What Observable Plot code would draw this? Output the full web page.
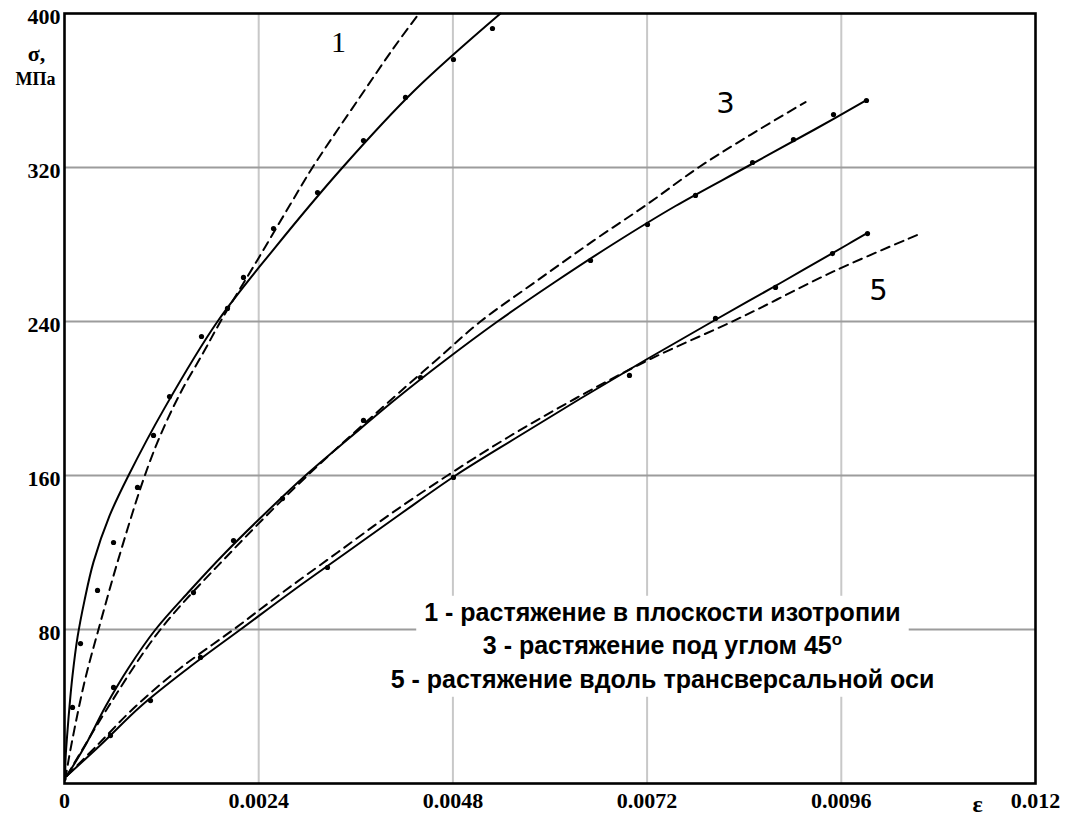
<!DOCTYPE html>
<html><head><meta charset="utf-8">
<script src="https://cdn.jsdelivr.net/npm/d3@7"></script>
<script src="https://cdn.jsdelivr.net/npm/@observablehq/plot@0.6"></script>
<style>body{margin:0;background:#fff} #chart{width:1066px;height:816px}</style>
</head><body><div id="chart"></div>
<script>
// ---- data (strain ε, stress σ in MPa) ----
const xTicks = [0, 0.0024, 0.0048, 0.0072, 0.0096, 0.012];
const yTicks = [80, 160, 240, 320, 400];
const xGrid = [0.0024, 0.0048, 0.0072, 0.0096];
const yGrid = [80, 160, 240, 320];

const solid1 = [[0.00001,2],[0.0000124,12],[0.0000309,24],[0.0000618,40],[0.0000989,56],[0.000161,76],[0.000247,95],[0.000358,115],[0.000556,139],[0.000791,160],[0.001236,195],[0.001891,240],[0.002595,278],[0.003436,320],[0.004325,360],[0.005388,400]];
const dashed1 = [[0.00001,2],[0.0000494,12],[0.000136,31],[0.00026,55],[0.00042,80],[0.000655,115],[0.000976,158],[0.001186,181],[0.001434,203],[0.001718,224],[0.001928,240],[0.002385,272],[0.002793,301],[0.003065,320],[0.003658,357],[0.004066,382],[0.004363,399]];
const solid3 = [[0.00003,4],[0.00026,20],[0.000507,40],[0.000791,60],[0.001125,80],[0.001545,100],[0.00199,120],[0.002472,140],[0.002978,160],[0.003535,180],[0.004103,200],[0.004709,220],[0.005351,240],[0.006043,260],[0.006772,280],[0.007551,300],[0.008416,320],[0.009281,340],[0.009911,355]];
const dashed3 = [[0.00003,4],[0.000544,40],[0.001186,80],[0.002052,120],[0.003003,160],[0.004054,200],[0.004597,220],[0.005141,240],[0.005833,261],[0.006538,282],[0.007205,301],[0.007835,320],[0.008478,337],[0.009158,354]];
const solid5 = [[0.00003,4],[0.000445,20],[0.000939,40],[0.001532,60],[0.002175,80],[0.002818,100],[0.003485,120],[0.004152,140],[0.004832,160],[0.005598,180],[0.006377,200],[0.00718,220],[0.008008,240],[0.008849,260],[0.009677,280],[0.009924,286]];
const dashed5 = [[0.00003,4],[0.000408,20],[0.000877,40],[0.001434,60],[0.002089,80],[0.002719,100],[0.003374,120],[0.004029,140],[0.004733,160],[0.005487,180],[0.006315,200],[0.007217,220],[0.008354,242],[0.009504,266],[0.010542,285]];

const points1 = [[0.000099,39.5],[0.000198,72.7],[0.000408,100.3],[0.000606,125.2],[0.000902,153.8],[0.0011,180.8],[0.001298,201],[0.001693,232.2],[0.002014,246.8],[0.002212,262.9],[0.002583,288.3],[0.003127,307],[0.003695,334],[0.004214,356.4],[0.004807,376.1],[0.005289,392.2]];
const points3 = [[0.000606,49.9],[0.001594,99.2],[0.002089,126.2],[0.002694,148],[0.003695,188.6],[0.0044,210.9],[0.006501,271.7],[0.007205,290.4],[0.007798,305.5],[0.008503,322.6],[0.009009,334.5],[0.009504,347.5],[0.009911,354.8]];
const points5 = [[0.000568,24.9],[0.001063,43.1],[0.001681,65.5],[0.00325,112.2],[0.004807,159],[0.006982,212],[0.008045,241.6],[0.008787,257.7],[0.009491,275.3],[0.009924,285.7]];

const curveLabels = [
  {label: "1", e: 0.003386, s: 385, serif: true},
  {label: "3", e: 0.008169, s: 353, serif: false},
  {label: "5", e: 0.01006, s: 256, serif: false}
];
const legendLines = [
  "1 - растяжение в плоскости изотропии",
  "3 - растяжение под углом 45",
  "5 - растяжение вдоль трансверсальной оси"
];
const legendAt = {e: 0.00739, s: 72.7};
const yAxisLabel = ["σ,", "МПа"];
const xAxisLabel = "ε";

// ---- build tables ----
const rows = (curve, pts) => pts.map(([e, s]) => ({curve, e, s}));
const solidRows = [...rows("1", solid1), ...rows("3", solid3), ...rows("5", solid5)];
const dashedRows = [...rows("1", dashed1), ...rows("3", dashed3), ...rows("5", dashed5)];
const pointRows = [...rows("1", points1), ...rows("3", points3), ...rows("5", points5)];

const fmt = d => d === 0 ? "0" : String(+d.toFixed(4));
const SERIF = "'Liberation Serif', 'Times New Roman', serif";
const SANS = "'Liberation Sans', Arial, sans-serif";

const chart = Plot.plot({
  width: 1066, height: 816,
  marginLeft: 64, marginRight: 31, marginTop: 13, marginBottom: 33,
  x: {domain: [0, 0.012], label: null},
  y: {domain: [0, 400], label: null},
  style: {fontFamily: SERIF, fontSize: "23px", fontWeight: "bold", background: "white", color: "black"},
  marks: [
    Plot.gridX(xGrid, {stroke: "#c8c8c8", strokeOpacity: 1, strokeWidth: 2}),
    Plot.gridY(yGrid, {stroke: "#9c9c9c", strokeOpacity: 1, strokeWidth: 2}),
    Plot.axisX(xTicks, {tickSize: 0, tickPadding: 9, tickFormat: fmt, fontSize: 22, label: null}),
    Plot.axisY(yTicks, {tickSize: 0, tickPadding: 4, dy: 3, fontSize: 22, label: null}),
    Plot.line(dashedRows, {x: "e", y: "s", z: "curve", stroke: "black", strokeWidth: 2, strokeDasharray: "9,6", curve: "catmull-rom"}),
    Plot.line(solidRows, {x: "e", y: "s", z: "curve", stroke: "black", strokeWidth: 2, curve: "catmull-rom"}),
    Plot.dot(pointRows, {x: "e", y: "s", r: 2.6, fill: "black", stroke: "none"}),
    Plot.text(curveLabels.filter(d => d.serif), {x: "e", y: "s", text: "label", fontFamily: SERIF, fontSize: 30, fontWeight: "normal"}),
    Plot.text(curveLabels.filter(d => !d.serif), {x: "e", y: "s", text: "label", fontFamily: "'DejaVu Sans', sans-serif", fontSize: 29, fontWeight: "normal"}),
    Plot.text([legendLines.join("\n")], {x: () => legendAt.e, y: () => legendAt.s, text: d => d, lineHeight: 1.34, fontSize: 25, fontWeight: "bold", fontFamily: SANS, textAnchor: "middle"}),
    Plot.text([yAxisLabel[0]], {frameAnchor: "top-left", dx: -28, dy: 32, text: d => d, fontSize: 22, textAnchor: "middle"}),
    Plot.text([yAxisLabel[1]], {frameAnchor: "top-left", dx: -29, dy: 59, text: d => d, fontSize: 18, textAnchor: "middle"}),
    Plot.text([xAxisLabel], {frameAnchor: "bottom-right", dx: -58, dy: 28, text: d => d, fontSize: 24, textAnchor: "middle"}),
    Plot.frame({stroke: "black", strokeWidth: 2.6})
  ]
});
document.getElementById("chart").append(chart);

// superscript degree mark and white backing behind legend
const legText = [...chart.querySelectorAll("text")].find(t => t.textContent.includes("изотропии"));
if (legText) {
  const spans = [...legText.querySelectorAll("tspan")];
  const s2 = spans.find(s => s.textContent.includes("45"));
  if (s2) {
    const sup = document.createElementNS("http://www.w3.org/2000/svg", "tspan");
    sup.setAttribute("baseline-shift", "super");
    sup.setAttribute("font-size", "17");
    sup.textContent = "o";
    s2.appendChild(sup);
  }
  const bb = legText.getBBox();
  let b1 = bb;
  try { b1 = spans[0].getBBox(); } catch (e) {}
  const rect = document.createElementNS("http://www.w3.org/2000/svg", "rect");
  rect.setAttribute("x", b1.x - 8);
  rect.setAttribute("width", b1.width + 16);
  rect.setAttribute("y", bb.y - 2);
  rect.setAttribute("height", bb.height + 6);
  rect.setAttribute("fill", "white");
  rect.setAttribute("stroke", "none");
  const tr = legText.getAttribute("transform");
  if (tr) rect.setAttribute("transform", tr);
  legText.parentNode.insertBefore(rect, legText);
}
</script>
</body></html>
